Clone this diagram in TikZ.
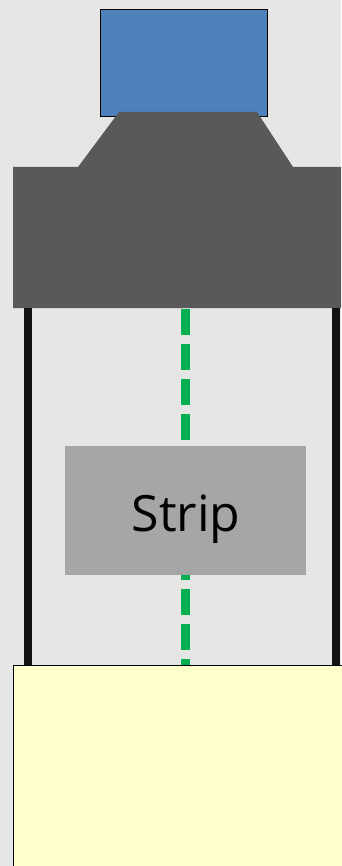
\documentclass[tikz,border=0pt]{standalone}
\usepackage{fontspec}
\setmainfont{Open Sans}
\definecolor{bg}{RGB}{230,230,228}
\definecolor{blueb}{RGB}{79,129,189}
\definecolor{darkg}{RGB}{89,89,89}
\definecolor{stripg}{RGB}{166,166,166}
\definecolor{greenl}{RGB}{0,176,80}
\definecolor{yel}{RGB}{255,255,204}
\begin{document}
\begin{tikzpicture}[x=1pt,y=-1pt,
  rail/.style={line width=8pt,color=black!93},
  beam/.style={line width=9pt,color=greenl,dash pattern=on 26pt off 9pt}]
\fill[bg] (0,0) rectangle (341,866);
\useasboundingbox (0,0) rectangle (341,866);
% blue top box
\node[draw=black,line width=0.8pt,fill=blueb,minimum width=167pt,minimum height=107pt,inner sep=0pt,anchor=north west] (lens) at (100,9) {};
% camera body
\fill[darkg] (119,112) -- (257,112) -- (293,167) -- (341,167) -- (341,308) -- (13,308) -- (13,167) -- (78,167) -- cycle;
\coordinate (body) at (185.5,308);
% rails
\coordinate (lt) at (28,308);
\coordinate (lb) at (28,665);
\coordinate (rt) at (336,308);
\coordinate (rb) at (336,665);
\draw[rail] (lt) -- (lb);
\draw[rail] (rt) -- (rb);
% green beam
\coordinate (gb) at (185.5,665);
\draw[beam] (185.5,309) -- (gb);
% strip
\node[fill=stripg,minimum width=241pt,minimum height=129pt,inner sep=0pt] (strip) at (185.5,510.5) {};
\node[inner sep=0pt,anchor=base,font=\fontsize{50}{60}\selectfont] (striptext) at (186,531) {Strip};
% yellow box
\node[draw=black,line width=0.8pt,fill=yel,minimum width=340pt,minimum height=220pt,inner sep=0pt,anchor=north west] (base) at (13.4,665.4) {};
\end{tikzpicture}
\end{document}
